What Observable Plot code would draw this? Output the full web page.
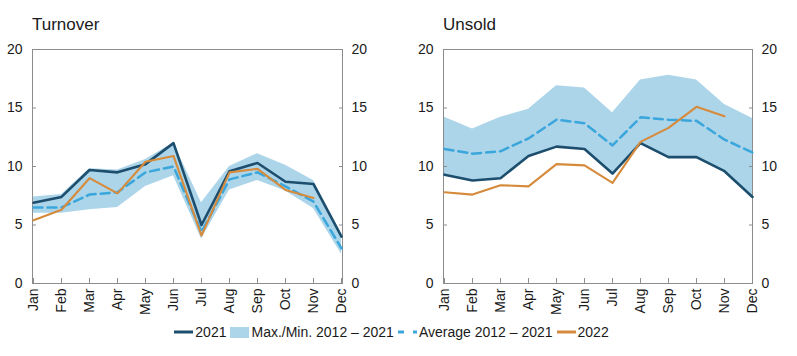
<!DOCTYPE html>
<html>
<head>
<meta charset="utf-8">
<script src="https://cdn.jsdelivr.net/npm/d3@7"></script>
<script src="https://cdn.jsdelivr.net/npm/@observablehq/plot@0.6"></script>
<style>
  html, body { margin: 0; padding: 0; background: #fff; }
  body { width: 797px; height: 356px; position: relative; overflow: hidden; font-family: "Liberation Sans", Arial, sans-serif; color: #1a1a1a; }
  .title { position: absolute; top: 16px; font-size: 17px; line-height: 1; }
  .panel { position: absolute; top: 0; }
  .legend { position: absolute; top: 324px; left: 0; width: 787px; display: flex; justify-content: center; align-items: center; font-size: 14px; line-height: 16px; white-space: nowrap; }
  .item { display: flex; align-items: center; margin-right: 4px; }
  .sw { display: inline-block; width: 19px; margin-right: 2px; }
</style>
</head>
<body>
<div class="title" style="left:32px">Turnover</div>
<div class="title" style="left:443px">Unsold</div>
<div class="panel" id="left" style="left:0px"></div>
<div class="panel" id="right" style="left:400px"></div>
<div class="legend" id="legend"></div>
<script>
const months = ["Jan","Feb","Mar","Apr","May","Jun","Jul","Aug","Sep","Oct","Nov","Dec"];
const yTicks = [0, 5, 10, 15, 20];
const seriesLabels = ["2021", "Max./Min. 2012 \u2013 2021", "Average 2012 \u2013 2021", "2022"];

// Turnover
const turnover2021 = [6.9, 7.4, 9.7, 9.5, 10.2, 12.0, 5.0, 9.6, 10.3, 8.7, 8.5, 4.0];
const turnoverMax  = [7.4, 7.6, 9.8, 9.7, 10.6, 12.0, 6.9, 10.0, 11.1, 10.1, 8.8, 4.2];
const turnoverMin  = [6.0, 6.0, 6.3, 6.5, 8.3, 9.2, 3.8, 8.0, 8.8, 7.9, 6.4, 2.5];
const turnoverAvg  = [6.5, 6.5, 7.6, 7.8, 9.5, 10.0, 4.4, 8.9, 9.5, 8.3, 7.0, 3.0];
const turnover2022 = [5.4, 6.3, 9.0, 7.7, 10.4, 10.9, 4.1, 9.5, 9.8, 8.0, 7.3];

// Unsold
const unsold2021 = [9.3, 8.8, 9.0, 10.9, 11.7, 11.5, 9.4, 12.0, 10.8, 10.8, 9.6, 7.4];
const unsoldMax  = [14.2, 13.2, 14.2, 14.9, 16.9, 16.7, 14.6, 17.4, 17.8, 17.4, 15.3, 14.1];
const unsoldMin  = [9.3, 8.8, 9.0, 10.9, 11.7, 11.5, 9.4, 12.0, 10.8, 10.8, 9.6, 7.4];
const unsoldAvg  = [11.5, 11.1, 11.3, 12.4, 14.0, 13.7, 11.8, 14.2, 14.0, 13.9, 12.3, 11.2];
const unsold2022 = [7.8, 7.6, 8.4, 8.3, 10.2, 10.1, 8.6, 12.1, 13.3, 15.1, 14.3];

const C2021 = "#1d4e6e", CBAND = "#acd5ea", CAVG = "#3aa6db", C2022 = "#d68b3c", CFRAME = "#8c8c8c";

function panel(el, width, mL, mR, s2021, sMax, sMin, sAvg, s2022) {
  const rows = months.map((m, i) => ({month: m, a: s2021[i], hi: sMax[i], lo: sMin[i], avg: sAvg[i], b: s2022[i]}));
  const rows22 = rows.filter(d => d.b != null);
  const fig = Plot.plot({
    width, height: 330,
    marginTop: 49, marginBottom: 47, marginLeft: mL, marginRight: mR,
    style: {fontFamily: "'Liberation Sans', Arial, sans-serif", fontSize: "14px", color: "#1a1a1a", background: "transparent", overflow: "visible"},
    x: {type: "point", domain: months, padding: 0, axis: null},
    y: {domain: [0, 20], axis: null},
    marks: [
      Plot.areaY(rows, {x: "month", y1: "lo", y2: "hi", fill: CBAND, curve: "linear"}),
      Plot.frame({stroke: CFRAME, strokeWidth: 1}),
      Plot.axisY({anchor: "left", ticks: yTicks, tickSize: 0, tickPadding: 10, fontSize: 14, label: null}),
      Plot.axisY({anchor: "right", ticks: yTicks, tickSize: 0, tickPadding: 9, fontSize: 14, label: null}),
      Plot.axisY({anchor: "left", ticks: yTicks, tickSize: 4, dx: 4, tickFormat: () => "", stroke: CFRAME, label: null}),
      Plot.axisY({anchor: "right", ticks: yTicks, tickSize: 4, dx: -4, tickFormat: () => "", stroke: CFRAME, label: null}),
      Plot.axisX({anchor: "bottom", tickSize: 5, dy: -5, tickFormat: () => "", stroke: CFRAME, label: null}),
      Plot.axisX({anchor: "bottom", tickSize: 0, tickPadding: 5, tickRotate: -90, fontSize: 14, label: null}),
      Plot.lineY(rows, {x: "month", y: "avg", stroke: CAVG, strokeWidth: 2.5, strokeDasharray: "9,5"}),
      Plot.lineY(rows, {x: "month", y: "a", stroke: C2021, strokeWidth: 2.6}),
      Plot.lineY(rows22, {x: "month", y: "b", stroke: C2022, strokeWidth: 2.1})
    ]
  });
  document.getElementById(el).appendChild(fig);
}

panel("left", 400, 32, 58, turnover2021, turnoverMax, turnoverMin, turnoverAvg, turnover2022);
panel("right", 397, 43, 45, unsold2021, unsoldMax, unsoldMin, unsoldAvg, unsold2022);

// legend
const legend = document.getElementById("legend");
const swatches = [
  `<svg class="sw" width="19" height="10"><line x1="0" x2="19" y1="5" y2="5" stroke="${C2021}" stroke-width="3"/></svg>`,
  `<svg class="sw" width="19" height="11"><rect x="0" y="0" width="19" height="11" fill="${CBAND}"/></svg>`,
  `<svg class="sw" width="19" height="10"><line x1="0" x2="19" y1="5" y2="5" stroke="${CAVG}" stroke-width="3" stroke-dasharray="6,9"/></svg>`,
  `<svg class="sw" width="19" height="10"><line x1="0" x2="19" y1="5" y2="5" stroke="${C2022}" stroke-width="3"/></svg>`
];
seriesLabels.forEach((t, i) => {
  const d = document.createElement("div");
  d.className = "item";
  d.innerHTML = swatches[i] + `<span>${t}</span>`;
  legend.appendChild(d);
});
</script>
</body>
</html>
